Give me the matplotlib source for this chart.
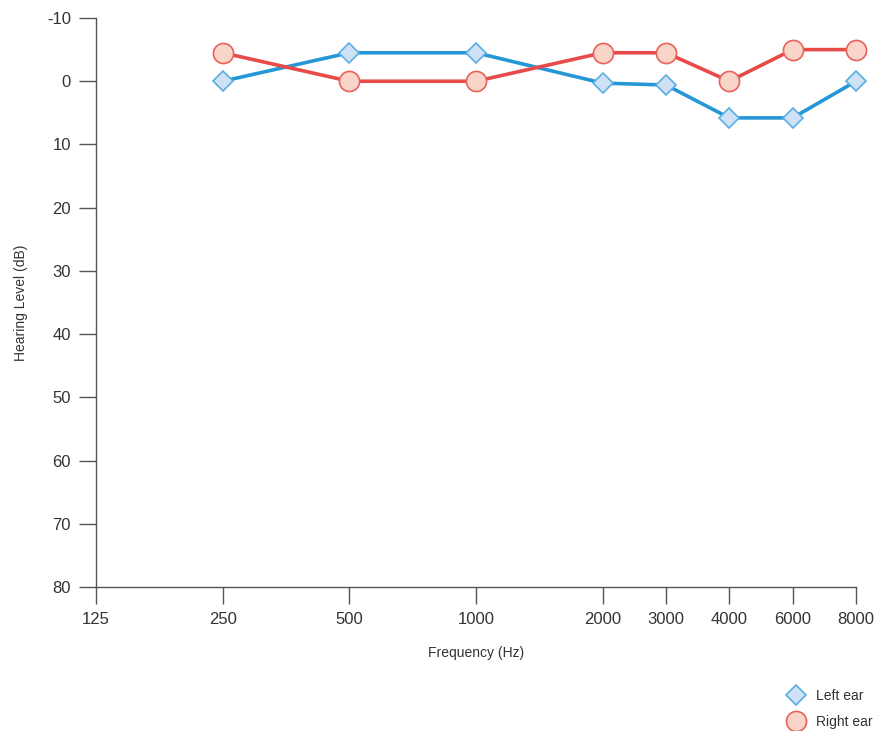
import matplotlib.pyplot as plt
from matplotlib.lines import Line2D

plt.rcParams['font.family'] = ['Liberation Sans', 'DejaVu Sans']

# audiogram data
freqs = [125, 250, 500, 1000, 2000, 3000, 4000, 6000, 8000]
freq_pos = [0, 1, 2, 3, 4, 4.5, 5, 5.5, 6]   # audiogram spacing, half octaves for 3k/6k
test_freqs = [250, 500, 1000, 2000, 3000, 4000, 6000, 8000]
left_ear = [0, -4.5, -4.5, 0.3, 0.6, 5.8, 5.8, 0]
right_ear = [-4.5, 0, 0, -4.5, -4.5, 0, -5, -5]
y_ticks = [-10, 0, 10, 20, 30, 40, 50, 60, 70, 80]

pos = dict(zip(freqs, freq_pos))
x = [pos[f] for f in test_freqs]

fig = plt.figure(figsize=(8.75, 7.31), dpi=100)
ax = fig.add_axes([96/875, 1 - 587/731, (856-96)/875, (587-18)/731])

blue, blue_face, blue_edge = '#2697d6', '#cfe1f4', '#5aaee3'
red, red_face, red_edge = '#e84a4a', '#f9d4c8', '#e8625c'

ax.plot(x, left_ear, color=blue, lw=2.6, marker='D', ms=10.5,
        mfc=blue_face, mec=blue_edge, mew=1.2, zorder=3, clip_on=False)
ax.plot(x, right_ear, color=red, lw=2.6, marker='o', ms=14.5,
        mfc=red_face, mec=red_edge, mew=1.2, zorder=4, clip_on=False)

ax.set_xlim(0, 6)
ax.set_ylim(80, -10)
ax.set_xticks(freq_pos)
ax.set_xticklabels([str(f) for f in freqs])
ax.set_yticks(y_ticks)
ax.set_yticklabels([str(v) for v in y_ticks])

for s in ['top', 'right']:
    ax.spines[s].set_visible(False)
for s in ['left', 'bottom']:
    ax.spines[s].set_color('#555555')
    ax.spines[s].set_linewidth(1.0)
ax.tick_params(direction='out', length=12, width=1.0, color='#555555',
               labelsize=12, labelcolor='#333333', pad=6)

ax.set_xlabel('Frequency (Hz)', fontsize=10, color='#333333', labelpad=14)
ax.set_ylabel('Hearing Level (dB)', fontsize=10, color='#333333')
ax.yaxis.set_label_coords(-0.09, 0.5)

handles = [
    Line2D([], [], ls='none', marker='D', ms=10.5, mfc=blue_face, mec=blue_edge, mew=1.2),
    Line2D([], [], ls='none', marker='o', ms=14.5, mfc=red_face, mec=red_edge, mew=1.2),
]
fig.legend(handles, ['Left ear', 'Right ear'], loc='upper left',
           bbox_to_anchor=(779/875, 1 - 682/731), frameon=False,
           fontsize=10, labelcolor='#333333', handletextpad=0.65,
           labelspacing=0.85, borderpad=0, handlelength=1.5)

fig.savefig('out.png', dpi=100)
